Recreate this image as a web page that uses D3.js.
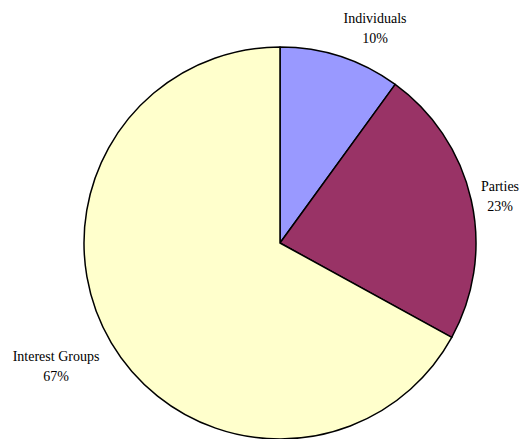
<!DOCTYPE html>
<html><head><meta charset="utf-8">
<script src="https://cdn.jsdelivr.net/npm/d3@7"></script>
<style>html,body{margin:0;padding:0;background:#fff;}svg{display:block;}</style>
</head><body>
<script>
const categories = ["Individuals", "Parties", "Interest Groups"];
const values = [10, 23, 67];
const labels = ["10%", "23%", "67%"];
const colors = ["#9999FF", "#993366", "#FFFFCC"];

const W = 525, H = 439, cx = 280, cy = 243, R = 196;
const svg = d3.select("body").append("svg").attr("width", W).attr("height", H);
const g = svg.append("g").attr("transform", `translate(${cx},${cy})`);
const pie = d3.pie().sort(null).value(d => d.v);
const arc = d3.arc().innerRadius(0).outerRadius(R);
const data = pie(categories.map((c, i) => ({c, v: values[i], l: labels[i], col: colors[i]})));
g.selectAll("path").data(data).join("path")
  .attr("d", arc).attr("fill", d => d.data.col)
  .attr("stroke", "#000").attr("stroke-width", 1.5).attr("stroke-linejoin", "round");

// label offsets relative to pie center (layout only)
const labelPos = [[95, -220], [220, -52], [-224, 118]];
data.forEach((d, i) => {
  const t = g.append("text").attr("transform", `translate(${labelPos[i][0]},${labelPos[i][1]})`)
    .attr("text-anchor", "middle").style("font-family", "'Liberation Serif'")
    .style("font-size", "14px").attr("fill", "#000");
  t.append("tspan").attr("x", 0).attr("dy", 0).text(d.data.c);
  t.append("tspan").attr("x", 0).attr("dy", 20).text(d.data.l);
});
</script>
</body></html>
